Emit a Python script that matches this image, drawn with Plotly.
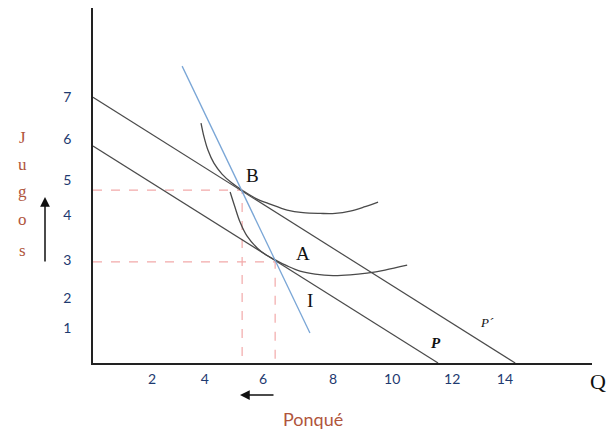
import plotly.graph_objects as go

# --- data ---
x_tick_vals = [1.97, 3.73, 5.67, 8.0, 9.97, 11.97, 13.73]
x_tick_text = ["2", "4", "6", "8", "10", "12", "14"]
y_tick_vals = [0.93, 1.73, 2.75, 3.95, 4.88, 5.97, 7.09]
y_tick_text = ["1", "2", "3", "4", "5", "6", "7"]

budget_p_prime_x = [0.0, 14.07]
budget_p_prime_y = [7.09, 0.0]
budget_p_x = [0.0, 11.5]
budget_p_y = [5.79, 0.0]
blue_x = [2.97, 7.23]
blue_y = [7.92, 0.80]

ic_upper_x = [3.60, 3.70, 3.83, 4.03, 4.30, 4.63, 4.97, 5.40, 5.90, 6.47, 7.00, 7.57, 8.07, 8.57, 9.07, 9.50]
ic_upper_y = [6.40, 6.03, 5.68, 5.33, 5.04, 4.80, 4.61, 4.40, 4.24, 4.08, 4.01, 3.99, 3.99, 4.05, 4.17, 4.29]
ic_lower_x = [4.57, 4.73, 4.90, 5.13, 5.47, 5.77, 6.07, 6.47, 6.90, 7.40, 8.00, 8.57, 9.13, 9.73, 10.47]
ic_lower_y = [4.56, 4.16, 3.76, 3.39, 3.07, 2.88, 2.75, 2.59, 2.45, 2.37, 2.33, 2.35, 2.40, 2.48, 2.61]

point_b = (4.97, 4.61)
point_a = (6.07, 2.70)

x_max = 16.63
y_max = 9.47

W, H = 607, 423  # page body adds an 8px margin

fig = go.Figure()

line_col = "#4a4a4a"
dash_col = "#f2a9a9"

for (px, py) in [point_b, point_a]:
    fig.add_trace(go.Scatter(x=[0, px, px], y=[py, py, 0], mode="lines",
                             line=dict(color=dash_col, width=1.2, dash="dash"),
                             hoverinfo="skip", showlegend=False))

fig.add_trace(go.Scatter(x=budget_p_prime_x, y=budget_p_prime_y, mode="lines",
                         line=dict(color=line_col, width=1.2), showlegend=False))
fig.add_trace(go.Scatter(x=budget_p_x, y=budget_p_y, mode="lines",
                         line=dict(color=line_col, width=1.2), showlegend=False))
fig.add_trace(go.Scatter(x=ic_upper_x, y=ic_upper_y, mode="lines",
                         line=dict(color=line_col, width=1.3, shape="spline", smoothing=1.0),
                         showlegend=False))
fig.add_trace(go.Scatter(x=ic_lower_x, y=ic_lower_y, mode="lines",
                         line=dict(color=line_col, width=1.3, shape="spline", smoothing=1.0),
                         showlegend=False))
fig.add_trace(go.Scatter(x=blue_x, y=blue_y, mode="lines",
                         line=dict(color="#7aa6d6", width=1.3), showlegend=False))

serif = "Liberation Serif"
sans = "Lato"
brown = "#b0553c"

labels = [
    (5.33, 4.99, "B", dict(family=serif, size=19, color="#111")),
    (7.00, 2.93, "A", dict(family=serif, size=19, color="#111")),
    (7.23, 1.68, "I", dict(family=serif, size=19, color="#111")),
    (11.43, 0.53, "<b><i>P</i></b>", dict(family=serif, size=15, color="#111")),
    (13.13, 1.07, "<i>P´</i>", dict(family=serif, size=13, color="#111")),
]
for x, y, t, f in labels:
    fig.add_annotation(x=x, y=y, text=t, showarrow=False, font=f, xanchor="center", yanchor="middle")

def px2paper(px, py):
    return (px - 8) / W, 1 - (py - 8) / H

qx, qy = px2paper(598, 381)
fig.add_annotation(xref="paper", yref="paper", x=qx, y=qy, text="Q", showarrow=False,
                   xanchor="center", yanchor="middle",
                   font=dict(family=serif, size=22, color="#111"))
pqx, pqy = px2paper(313, 419)
fig.add_annotation(xref="paper", yref="paper", x=pqx, y=pqy, text="Ponqué", showarrow=False,
                   xanchor="center", yanchor="middle",
                   font=dict(family=sans, size=18, color=brown))

jugos_letters = ["J", "u", "g", "o", "s"]
jugos_py = [137, 164, 191, 220, 250]
for letter, py in zip(jugos_letters, jugos_py):
    jx, jy = px2paper(22, py)
    fig.add_annotation(xref="paper", yref="paper", x=jx, y=jy, text=letter, showarrow=False,
                       xanchor="center", yanchor="middle",
                       font=dict(family=serif, size=17, color=brown))

# arrows
ux, uy = px2paper(45, 197)
fig.add_annotation(xref="paper", yref="paper", x=ux, y=uy, ax=0, ay=66,
                   text="", showarrow=True, arrowhead=2, arrowsize=1.3, arrowwidth=1.5,
                   arrowcolor="#111")
lx, ly = px2paper(240, 395)
fig.add_annotation(xref="paper", yref="paper", x=lx, y=ly, ax=35, ay=0,
                   text="", showarrow=True, arrowhead=2, arrowsize=1.3, arrowwidth=1.5,
                   arrowcolor="#111")

tick_font = dict(family=sans, size=14, color="#1e3a70")

fig.update_layout(
    width=W, height=H,
    margin=dict(l=0, r=0, t=0, b=0),
    paper_bgcolor="white", plot_bgcolor="white",
    showlegend=False,
    xaxis=dict(domain=[(93 - 8) / W, (592 - 8) / W], range=[0, x_max], showgrid=False, zeroline=False,
               showline=True, linecolor="#222", linewidth=1.6,
               tickmode="array", tickvals=x_tick_vals, ticktext=x_tick_text,
               ticks="", tickfont=tick_font, ticklabelstandoff=2, fixedrange=True),
    yaxis=dict(domain=[1 - (363 - 8) / H, 1.0], range=[0, y_max], showgrid=False, zeroline=False,
               showline=True, linecolor="#222", linewidth=1.6,
               tickmode="array", tickvals=y_tick_vals, ticktext=y_tick_text,
               ticks="", tickfont=tick_font, ticklabelstandoff=17, fixedrange=True),
)

fig.write_html("out.html")
